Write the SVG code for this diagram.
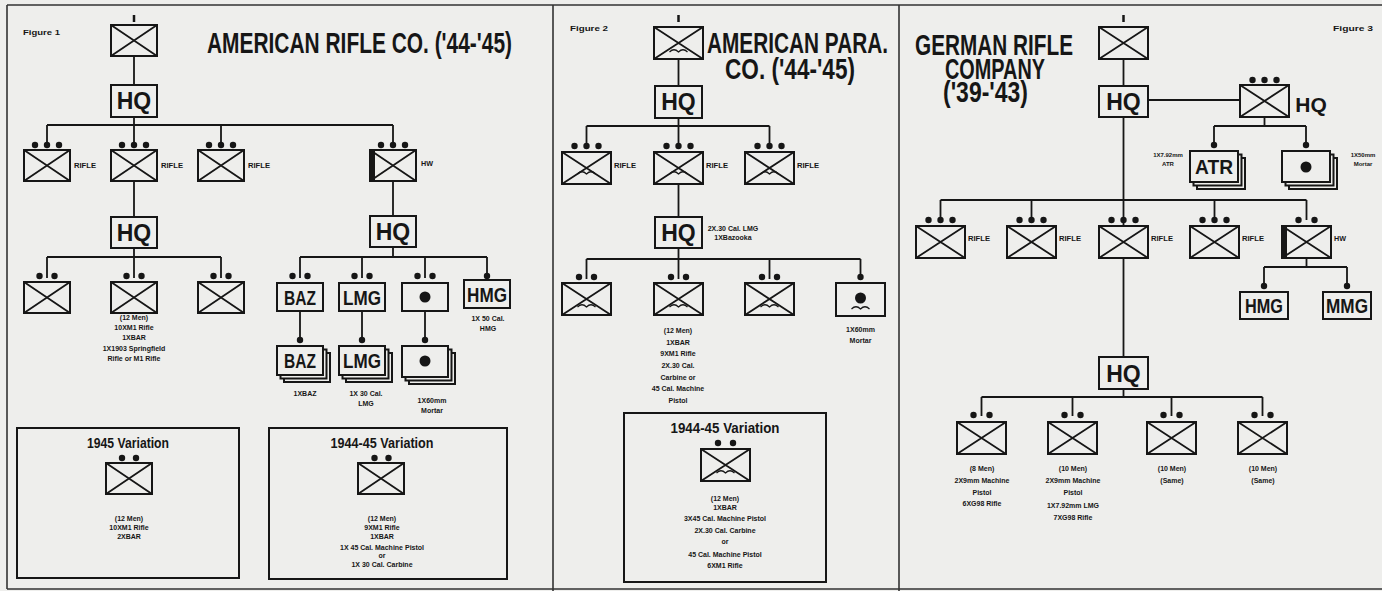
<svg xmlns="http://www.w3.org/2000/svg" width="1382" height="591" viewBox="0 0 1382 591">
<style>
.bx{fill:#eeeeec;stroke:#161616;stroke-width:2}
.ln{fill:none;stroke:#161616;stroke-width:1.8}
.wg{fill:none;stroke:#161616;stroke-width:1.2}
.dt{fill:#161616}
.fr{fill:none;stroke:#333;stroke-width:1.6}
.s{font-family:"Liberation Sans",Arial,sans-serif;font-weight:bold;font-size:7px;fill:#161616;text-anchor:middle}
.sl{font-family:"Liberation Sans",Arial,sans-serif;font-weight:bold;font-size:7px;fill:#161616}
.hq{font-family:"Liberation Sans",Arial,sans-serif;font-weight:bold;font-size:23px;fill:#161616;text-anchor:middle}
.cd{font-family:"Liberation Sans",Arial,sans-serif;font-weight:bold;font-size:16px;fill:#161616;text-anchor:middle}
.ti{font-family:"Liberation Sans",Arial,sans-serif;font-weight:bold;font-size:21px;fill:#161616}
.vt{font-family:"Liberation Sans",Arial,sans-serif;font-weight:bold;font-size:12.5px;fill:#161616;text-anchor:middle}
</style>
<defs>
<g id="b46"><rect class="bx" width="46" height="31"/><path class="ln" d="M0 0L46 31M46 0L0 31"/></g>
<g id="b49"><rect class="bx" width="49" height="32"/><path class="ln" d="M0 0L49 32M49 0L0 32"/></g>
<path id="wing" class="wg" d="M-9 1Q-4.5 -3.5 0 1Q4.5 -3.5 9 1"/>
<circle id="dot" class="dt" r="3.2"/>
</defs>
<rect width="1382" height="591" fill="#eeeeec"/>
<g id="frame">
<path class="fr" d="M7 5H1382M7 5V589M553 5V591M899 5V591M7 589H1382"/>
</g>

<g id="connectors">
<path class="ln" d="M134 56V85M134 117V125M47 125H393M47 125V146M134 125V146M221 125V146M393 125V146"/>
<path class="ln" d="M134 181V217M134 248V257M47 257H221M47 257V278M134 257V278M221 257V278"/>
<path class="ln" d="M393 181V216M393 247V257M300 257H487M300 257V278M362 257V278M425 257V278M487 257V278"/>
<path class="ln" d="M300 311V340M362 311V340M425 311V340"/>
<path class="ln" d="M678.5 59V86M678.5 118V126M586.5 126H769.5M586.5 126V146M678.5 126V146M769.5 126V146"/>
<path class="ln" d="M678.5 184V217M678.5 248V259M586.5 259H860.5M586.5 259V279M678.5 259V279M769.5 259V279M860.5 259V279"/>
<path class="ln" d="M1123.5 58V86M1123.5 117V357M1148 100H1240M1264.5 117V126M1214 126H1306M1214 126V145M1306 126V145"/>
<path class="ln" d="M940.5 200H1306.5M940.5 200V220M1031.5 200V220M1214.5 200V220M1306.5 200V220"/>
<path class="ln" d="M1306.5 256V267M1264 267H1347M1264 267V286M1347 267V286"/>
<path class="ln" d="M1123.5 389V397M981.5 397H1262.5M981.5 397V416M1072.5 397V416M1171.5 397V416M1262.5 397V416"/>
</g>

<!-- Panel 1 -->
<g id="p1-labels">
<text class="sl" x="23" y="35" textLength="37" lengthAdjust="spacingAndGlyphs">Figure 1</text>
<text class="ti" transform="translate(207 53) scale(1 1.38)" textLength="305" lengthAdjust="spacingAndGlyphs">AMERICAN RIFLE CO. ('44-'45)</text>
</g>
<g id="p1-coy">
<path class="ln" d="M134 15V22" style="stroke-width:2.5"/>
<use href="#b46" x="111" y="25"/>
</g>
<g id="p1-hq"><rect class="bx" x="111" y="85" width="46" height="32"/><text class="hq" x="134" y="109">HQ</text></g>
<g id="p1-rifle1"><use href="#dot" x="35" y="145"/><use href="#dot" x="47" y="145"/><use href="#dot" x="59" y="145"/><use href="#b46" x="24" y="150"/><text class="sl" x="74" y="168" textLength="22" lengthAdjust="spacingAndGlyphs">RIFLE</text></g>
<g id="p1-rifle2"><use href="#dot" x="122" y="145"/><use href="#dot" x="134" y="145"/><use href="#dot" x="146" y="145"/><use href="#b46" x="111" y="150"/><text class="sl" x="161" y="168" textLength="22" lengthAdjust="spacingAndGlyphs">RIFLE</text></g>
<g id="p1-rifle3"><use href="#dot" x="209" y="145"/><use href="#dot" x="221" y="145"/><use href="#dot" x="233" y="145"/><use href="#b46" x="198" y="150"/><text class="sl" x="248" y="168" textLength="22" lengthAdjust="spacingAndGlyphs">RIFLE</text></g>
<g id="p1-hw"><use href="#dot" x="381" y="145"/><use href="#dot" x="393" y="145"/><use href="#dot" x="405" y="145"/><use href="#b46" x="370" y="150"/><rect class="dt" x="370" y="150" width="5" height="31"/><text class="sl" x="421" y="166" textLength="12" lengthAdjust="spacingAndGlyphs">HW</text></g>
<g id="p1-plt-hq"><rect class="bx" x="111" y="217" width="46" height="31"/><text class="hq" x="134" y="241">HQ</text></g>
<g id="p1-sq1"><use href="#dot" x="39.5" y="276"/><use href="#dot" x="54.5" y="276"/><use href="#b46" x="24" y="282"/></g>
<g id="p1-sq2"><use href="#dot" x="126.5" y="276"/><use href="#dot" x="141.5" y="276"/><use href="#b46" x="111" y="282"/>
<text class="s" x="134" y="320">(12 Men)</text><text class="s" x="134" y="330">10XM1 Rifle</text><text class="s" x="134" y="340">1XBAR</text><text class="s" x="134" y="351">1X1903 Springfield</text><text class="s" x="134" y="361">Rifle or M1 Rifle</text></g>
<g id="p1-sq3"><use href="#dot" x="213.5" y="276"/><use href="#dot" x="228.5" y="276"/><use href="#b46" x="198" y="282"/></g>
<g id="p1-hw-hq"><rect class="bx" x="370" y="216" width="46" height="31"/><text class="hq" x="393" y="240">HQ</text></g>
<g id="p1-baz"><use href="#dot" x="292.5" y="276"/><use href="#dot" x="307.5" y="276"/><rect class="bx" x="277" y="283" width="46" height="28"/><text class="cd" transform="translate(300 305) scale(1 1.3)" textLength="32" lengthAdjust="spacingAndGlyphs">BAZ</text></g>
<g id="p1-lmg"><use href="#dot" x="354.5" y="276"/><use href="#dot" x="369.5" y="276"/><rect class="bx" x="339" y="283" width="46" height="28"/><text class="cd" transform="translate(362 305) scale(1 1.3)" textLength="38" lengthAdjust="spacingAndGlyphs">LMG</text></g>
<g id="p1-mort"><use href="#dot" x="417.5" y="276"/><use href="#dot" x="432.5" y="276"/><rect class="bx" x="402" y="283" width="46" height="28"/><circle class="dt" cx="425" cy="297" r="5.5"/></g>
<g id="p1-hmg"><use href="#dot" x="487" y="276"/><rect class="bx" x="464" y="280" width="46" height="28"/><text class="cd" transform="translate(487 302) scale(1 1.3)" textLength="40" lengthAdjust="spacingAndGlyphs">HMG</text><text class="s" x="488" y="321">1X 50 Cal.</text><text class="s" x="488" y="331">HMG</text></g>
<g id="p1-baz2"><use href="#dot" x="300" y="340"/>
<rect class="bx" x="284" y="353" width="46" height="29"/><rect class="bx" x="280.5" y="349.5" width="46" height="29"/><rect class="bx" x="277" y="346" width="46" height="29"/>
<text class="cd" transform="translate(300 368) scale(1 1.3)" textLength="32" lengthAdjust="spacingAndGlyphs">BAZ</text><text class="s" x="305" y="396">1XBAZ</text></g>
<g id="p1-lmg2"><use href="#dot" x="362" y="340"/>
<rect class="bx" x="346" y="353" width="46" height="29"/><rect class="bx" x="342.5" y="349.5" width="46" height="29"/><rect class="bx" x="339" y="346" width="46" height="29"/>
<text class="cd" transform="translate(362 368) scale(1 1.3)" textLength="38" lengthAdjust="spacingAndGlyphs">LMG</text><text class="s" x="366" y="396">1X 30 Cal.</text><text class="s" x="366" y="406">LMG</text></g>
<g id="p1-mort2"><use href="#dot" x="425" y="340"/>
<rect class="bx" x="409" y="353" width="46" height="31"/><rect class="bx" x="405.5" y="349.5" width="46" height="31"/><rect class="bx" x="402" y="346" width="46" height="31"/>
<circle class="dt" cx="425" cy="361" r="5.5"/><text class="s" x="432" y="403">1X60mm</text><text class="s" x="432" y="413">Mortar</text></g>
<g id="p1-var1">
<rect class="bx" x="17" y="428" width="222" height="150"/>
<text class="vt" transform="translate(128 448) scale(1 1.2)" textLength="82" lengthAdjust="spacingAndGlyphs">1945 Variation</text>
<use href="#dot" x="122" y="458"/><use href="#dot" x="136" y="458"/><use href="#b46" x="106" y="463"/>
<text class="s" x="129" y="521">(12 Men)</text><text class="s" x="129" y="530">10XM1 Rifle</text><text class="s" x="129" y="539">2XBAR</text>
</g>
<g id="p1-var2">
<rect class="bx" x="269" y="428" width="238" height="151"/>
<text class="vt" transform="translate(382 448) scale(1 1.2)" textLength="103" lengthAdjust="spacingAndGlyphs">1944-45 Variation</text>
<use href="#dot" x="374.5" y="458"/><use href="#dot" x="388.5" y="458"/><use href="#b46" x="358" y="463"/>
<text class="s" x="382" y="521">(12 Men)</text><text class="s" x="382" y="530">9XM1 Rifle</text><text class="s" x="382" y="538.5">1XBAR</text><text class="s" x="382" y="549.5">1X 45 Cal. Machine Pistol</text><text class="s" x="382" y="558">or</text><text class="s" x="382" y="567">1X 30 Cal. Carbine</text>
</g>

<!-- Panel 2 -->
<g id="p2-labels">
<text class="sl" x="570" y="31" textLength="38" lengthAdjust="spacingAndGlyphs">Figure 2</text>
<text class="ti" transform="translate(707 53) scale(1 1.38)" textLength="181" lengthAdjust="spacingAndGlyphs">AMERICAN PARA.</text>
<text class="ti" transform="translate(725 79) scale(1 1.38)" textLength="130" lengthAdjust="spacingAndGlyphs">CO. ('44-'45)</text>
</g>
<g id="p2-coy"><path class="ln" d="M678.5 15V22" style="stroke-width:2.5"/><use href="#b49" x="654" y="27"/><use href="#wing" x="678.5" y="51"/></g>
<g id="p2-hq"><rect class="bx" x="655" y="86" width="47" height="32"/><text class="hq" x="678.5" y="110">HQ</text></g>
<g id="p2-rifle1"><use href="#dot" x="574.5" y="146"/><use href="#dot" x="586.5" y="146"/><use href="#dot" x="598.5" y="146"/><use href="#b49" x="562" y="152"/><use href="#wing" x="586.5" y="173"/><text class="sl" x="614" y="168" textLength="22" lengthAdjust="spacingAndGlyphs">RIFLE</text></g>
<g id="p2-rifle2"><use href="#dot" x="666.5" y="146"/><use href="#dot" x="678.5" y="146"/><use href="#dot" x="690.5" y="146"/><use href="#b49" x="654" y="152"/><use href="#wing" x="678.5" y="173"/><text class="sl" x="706" y="168" textLength="22" lengthAdjust="spacingAndGlyphs">RIFLE</text></g>
<g id="p2-rifle3"><use href="#dot" x="757.5" y="146"/><use href="#dot" x="769.5" y="146"/><use href="#dot" x="781.5" y="146"/><use href="#b49" x="745" y="152"/><use href="#wing" x="769.5" y="173"/><text class="sl" x="797" y="168" textLength="22" lengthAdjust="spacingAndGlyphs">RIFLE</text></g>
<g id="p2-plt-hq"><rect class="bx" x="655" y="217" width="47" height="31"/><text class="hq" x="678.5" y="241">HQ</text><text class="s" x="733" y="231">2X.30 Cal. LMG</text><text class="s" x="733" y="240">1XBazooka</text></g>
<g id="p2-sq1"><use href="#dot" x="579" y="277"/><use href="#dot" x="594" y="277"/><use href="#b49" x="562" y="283"/><use href="#wing" x="586.5" y="306"/></g>
<g id="p2-sq2"><use href="#dot" x="671" y="277"/><use href="#dot" x="686" y="277"/><use href="#b49" x="654" y="283"/><use href="#wing" x="678.5" y="306"/>
<text class="s" x="678" y="333">(12 Men)</text><text class="s" x="678" y="344.5">1XBAR</text><text class="s" x="678" y="355.5">9XM1 Rifle</text><text class="s" x="678" y="367.5">2X.30 Cal.</text><text class="s" x="678" y="379.5">Carbine or</text><text class="s" x="678" y="390.5">45 Cal. Machine</text><text class="s" x="678" y="402.5">Pistol</text></g>
<g id="p2-sq3"><use href="#dot" x="762" y="277"/><use href="#dot" x="777" y="277"/><use href="#b49" x="745" y="283"/><use href="#wing" x="769.5" y="306"/></g>
<g id="p2-mort"><use href="#dot" x="860.5" y="277"/><rect class="bx" x="836" y="283" width="49" height="33"/><circle class="dt" cx="860.5" cy="298" r="5.5"/><use href="#wing" x="860.5" y="308"/><text class="s" x="860.5" y="332">1X60mm</text><text class="s" x="860.5" y="343">Mortar</text></g>
<g id="p2-var">
<rect class="bx" x="624" y="413" width="202" height="169"/>
<text class="vt" transform="translate(725 433) scale(1 1.2)" textLength="109" lengthAdjust="spacingAndGlyphs">1944-45 Variation</text>
<use href="#dot" x="718" y="443"/><use href="#dot" x="733" y="443"/><use href="#b49" x="701" y="449"/><use href="#wing" x="725.5" y="472"/>
<text class="s" x="725" y="501">(12 Men)</text><text class="s" x="725" y="510">1XBAR</text><text class="s" x="725" y="521">3X45 Cal. Machine Pistol</text><text class="s" x="725" y="532.5">2X.30 Cal. Carbine</text><text class="s" x="725" y="543.5">or</text><text class="s" x="725" y="556.5">45 Cal. Machine Pistol</text><text class="s" x="725" y="567.5">6XM1 Rifle</text>
</g>

<!-- Panel 3 -->
<g id="p3-labels">
<text class="ti" transform="translate(915 55) scale(1 1.38)" textLength="158" lengthAdjust="spacingAndGlyphs">GERMAN RIFLE</text>
<text class="ti" transform="translate(945 79) scale(1 1.38)" textLength="100" lengthAdjust="spacingAndGlyphs">COMPANY</text>
<text class="ti" transform="translate(943 102) scale(1 1.38)" textLength="85" lengthAdjust="spacingAndGlyphs">('39-'43)</text>
<text class="sl" x="1333" y="31" textLength="40" lengthAdjust="spacingAndGlyphs">Figure 3</text>
</g>
<g id="p3-coy"><path class="ln" d="M1123.5 15V22" style="stroke-width:2.5"/><use href="#b49" x="1099" y="27"/></g>
<g id="p3-hq"><rect class="bx" x="1099" y="86" width="49" height="31"/><text class="hq" x="1123.5" y="110">HQ</text></g>
<g id="p3-hq-plt"><use href="#dot" x="1252.5" y="80"/><use href="#dot" x="1264.5" y="80"/><use href="#dot" x="1276.5" y="80"/><use href="#b49" x="1240" y="85"/><text class="hq" x="1311" y="112" style="font-size:21px">HQ</text></g>
<g id="p3-atr"><use href="#dot" x="1214" y="145"/>
<rect class="bx" x="1197" y="158" width="48" height="31"/><rect class="bx" x="1193.5" y="154.5" width="48" height="31"/><rect class="bx" x="1190" y="151" width="48" height="31"/>
<text class="cd" transform="translate(1214 174) scale(1 1.3)" textLength="38" lengthAdjust="spacingAndGlyphs">ATR</text>
<text class="s" x="1168" y="157" style="font-size:6px">1X7.92mm</text><text class="s" x="1168" y="166" style="font-size:6px">ATR</text></g>
<g id="p3-mort"><use href="#dot" x="1306" y="145"/>
<rect class="bx" x="1289" y="158" width="48" height="31"/><rect class="bx" x="1285.5" y="154.5" width="48" height="31"/><rect class="bx" x="1282" y="151" width="48" height="31"/>
<circle class="dt" cx="1306" cy="167" r="5.5"/>
<text class="s" x="1363" y="157" style="font-size:6px">1X50mm</text><text class="s" x="1363" y="166" style="font-size:6px">Mortar</text></g>
<g id="p3-rifle1"><use href="#dot" x="928.5" y="220"/><use href="#dot" x="940.5" y="220"/><use href="#dot" x="952.5" y="220"/><use href="#b49" x="916" y="226"/><text class="sl" x="968" y="241" textLength="22" lengthAdjust="spacingAndGlyphs">RIFLE</text></g>
<g id="p3-rifle2"><use href="#dot" x="1019.5" y="220"/><use href="#dot" x="1031.5" y="220"/><use href="#dot" x="1043.5" y="220"/><use href="#b49" x="1007" y="226"/><text class="sl" x="1059" y="241" textLength="22" lengthAdjust="spacingAndGlyphs">RIFLE</text></g>
<g id="p3-rifle3"><use href="#dot" x="1111.5" y="220"/><use href="#dot" x="1123.5" y="220"/><use href="#dot" x="1135.5" y="220"/><use href="#b49" x="1099" y="226"/><text class="sl" x="1151" y="241" textLength="22" lengthAdjust="spacingAndGlyphs">RIFLE</text></g>
<g id="p3-rifle4"><use href="#dot" x="1202.5" y="220"/><use href="#dot" x="1214.5" y="220"/><use href="#dot" x="1226.5" y="220"/><use href="#b49" x="1190" y="226"/><text class="sl" x="1242" y="241" textLength="22" lengthAdjust="spacingAndGlyphs">RIFLE</text></g>
<g id="p3-hw"><use href="#dot" x="1298.5" y="220"/><use href="#dot" x="1314.5" y="220"/><use href="#b49" x="1282" y="226"/><rect class="dt" x="1282" y="226" width="5" height="32"/><text class="sl" x="1334" y="241" textLength="12" lengthAdjust="spacingAndGlyphs">HW</text></g>
<g id="p3-hmg"><use href="#dot" x="1264" y="286"/><rect class="bx" x="1240" y="292" width="48" height="27"/><text class="cd" transform="translate(1264 313) scale(1 1.3)" textLength="38" lengthAdjust="spacingAndGlyphs">HMG</text></g>
<g id="p3-mmg"><use href="#dot" x="1347" y="286"/><rect class="bx" x="1323" y="292" width="48" height="27"/><text class="cd" transform="translate(1347 313) scale(1 1.3)" textLength="42" lengthAdjust="spacingAndGlyphs">MMG</text></g>
<g id="p3-plt-hq"><rect class="bx" x="1099" y="357" width="49" height="32"/><text class="hq" x="1123.5" y="382">HQ</text></g>
<g id="p3-sq1"><use href="#dot" x="973.5" y="415"/><use href="#dot" x="989.5" y="415"/><use href="#b49" x="957" y="422"/>
<text class="s" x="982" y="471">(8 Men)</text><text class="s" x="982" y="483">2X9mm Machine</text><text class="s" x="982" y="494.5">Pistol</text><text class="s" x="982" y="506">6XG98 Rifle</text></g>
<g id="p3-sq2"><use href="#dot" x="1064.5" y="415"/><use href="#dot" x="1080.5" y="415"/><use href="#b49" x="1048" y="422"/>
<text class="s" x="1073" y="471">(10 Men)</text><text class="s" x="1073" y="483">2X9mm Machine</text><text class="s" x="1073" y="494.5">Pistol</text><text class="s" x="1073" y="507.5">1X7.92mm LMG</text><text class="s" x="1073" y="519.5">7XG98 Rifle</text></g>
<g id="p3-sq3"><use href="#dot" x="1163.5" y="415"/><use href="#dot" x="1179.5" y="415"/><use href="#b49" x="1147" y="422"/>
<text class="s" x="1172" y="471">(10 Men)</text><text class="s" x="1172" y="483">(Same)</text></g>
<g id="p3-sq4"><use href="#dot" x="1254.5" y="415"/><use href="#dot" x="1270.5" y="415"/><use href="#b49" x="1238" y="422"/>
<text class="s" x="1263" y="471">(10 Men)</text><text class="s" x="1263" y="483">(Same)</text></g>
</svg>
